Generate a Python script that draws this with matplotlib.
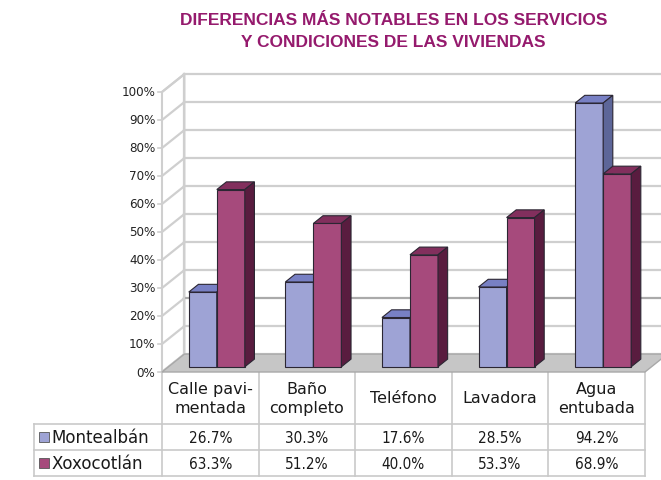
import matplotlib.pyplot as plt
from matplotlib.patches import Polygon, Rectangle

# data
categories = ["Calle pavi-\nmentada", "Baño\ncompleto", "Teléfono", "Lavadora", "Agua\nentubada"]
montealban = [26.7, 30.3, 17.6, 28.5, 94.2]
xoxocotlan = [63.3, 51.2, 40.0, 53.3, 68.9]
series_names = ["Montealbán", "Xoxocotlán"]
yticks = list(range(0, 101, 10))

# colours: front, top, side
MONTE = ("#9ea3d5", "#7880c4", "#5d6699")
XOXO = ("#a64a7c", "#822f5d", "#591c3f")
EDGE = "#2b2633"
GRID = "#cfcfcf"
FONT = "DejaVu Sans"

# pseudo-3d geometry (data units)
DX, DY = 0.232, 6.4        # full depth offset of walls/floor
D0, D1 = 0.29, 0.72        # bar depth range as fraction of DX/DY
BW = 0.29                  # bar width
N = len(categories)

fig = plt.figure(figsize=(6.61, 4.81), dpi=100)
ax = fig.add_axes([0, 0, 1, 1])
ax.set_xlim(-2.177, 4.666)
ax.set_ylim(-38.57, 133.21)
ax.axis("off")

x0, x1 = -0.5, N - 0.5
xr = 6.0

# left wall and back wall grid
ax.add_patch(Polygon([(x0, 0), (x0, 100), (x0 + DX, 100 + DY), (x0 + DX, DY)],
                     closed=True, fc="white", ec=GRID, lw=1.5, zorder=1))
for v in yticks:
    ax.plot([x0, x0 + DX], [v, v + DY], color=GRID, lw=1.6, zorder=1)
    c = "#aaaaaa" if v == 20 else GRID
    ax.plot([x0 + DX, xr], [v + DY, v + DY], color=c, lw=1.6, zorder=1)
    ax.plot([x0 - 0.04, x0], [v, v], color=GRID, lw=1.2, zorder=1)
    ax.text(x0 - 0.07, v, f"{v}%", ha="right", va="center", fontsize=9.5,
            family=FONT, fontstretch="condensed", color="#222222")
ax.plot([x0 + DX, x0 + DX], [DY, 100 + DY], color=GRID, lw=1.6, zorder=1)

# floor
ax.add_patch(Polygon([(x0, 0), (x1, 0), (x1 + DX, DY), (x0 + DX, DY)],
                     closed=True, fc="#c6c6c6", ec="#a8a8a8", lw=1.0, zorder=2))


def bar3d(x, h, cols):
    front, top, side = cols
    bx, by = x + D0 * DX, D0 * DY
    dx, dy = (D1 - D0) * DX, (D1 - D0) * DY
    ax.add_patch(Rectangle((bx, by), BW, h, fc=front, ec=EDGE, lw=0.8, zorder=3))
    ax.add_patch(Polygon([(bx, by + h), (bx + dx, by + h + dy), (bx + BW + dx, by + h + dy),
                          (bx + BW, by + h)], closed=True, fc=top, ec=EDGE, lw=0.8, zorder=3))
    ax.add_patch(Polygon([(bx + BW, by), (bx + BW + dx, by + dy), (bx + BW + dx, by + h + dy),
                          (bx + BW, by + h)], closed=True, fc=side, ec=EDGE, lw=0.8, zorder=3))


for i in range(N):
    bar3d(i - BW, montealban[i], MONTE)
    bar3d(i, xoxocotlan[i], XOXO)

# data table
r1, r2, r3 = -18.57, -27.86, -37.14
xl = -1.825
tc = "#c9c9c9"
for k in range(N + 1):
    ax.plot([x0 + k, x0 + k], [0, r3], color=tc, lw=1.2, zorder=1)
ax.plot([xl, xl], [r1, r3], color=tc, lw=1.2)
for r in (r1, r2, r3):
    ax.plot([xl, x1], [r, r], color=tc, lw=1.2)

for i, lab in enumerate(categories):
    ax.text(i, (0 + r1) / 2, lab, ha="center", va="center", fontsize=11.5,
            family=FONT, linespacing=1.4, color="#1a1a1a")
    ax.text(i, (r1 + r2) / 2, f"{montealban[i]:.1f}%", ha="center", va="center",
            fontsize=11, family=FONT, fontstretch="condensed", color="#1a1a1a")
    ax.text(i, (r2 + r3) / 2, f"{xoxocotlan[i]:.1f}%", ha="center", va="center",
            fontsize=11, family=FONT, fontstretch="condensed", color="#1a1a1a")

for (ya, yb), name, cols in zip([(r1, r2), (r2, r3)], series_names, [MONTE, XOXO]):
    ym = (ya + yb) / 2
    ax.add_patch(Rectangle((xl + 0.05, ym - 1.8), 0.11, 3.6, fc=cols[0], ec="#555555", lw=0.6))
    ax.text(xl + 0.185, ym, name, ha="left", va="center", fontsize=12,
            family=FONT, color="#1a1a1a")

fig.text(0.595, 0.9345, "DIFERENCIAS MÁS NOTABLES EN LOS SERVICIOS\nY CONDICIONES DE LAS VIVIENDAS",
         ha="center", va="center", fontsize=12.5, fontweight="bold", color="#951a6d",
         family="Liberation Sans", linespacing=1.6)

fig.savefig("out.png", dpi=100)
